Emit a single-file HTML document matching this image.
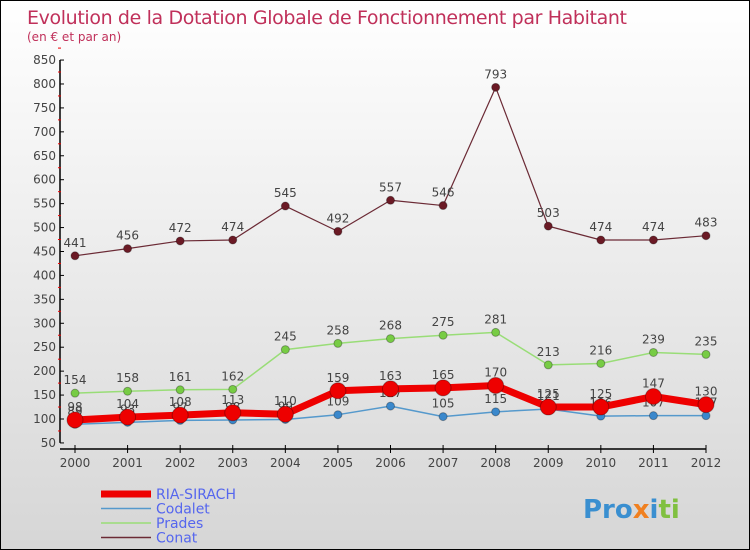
<!DOCTYPE html>
<html><head><meta charset="utf-8"><style>
html,body{margin:0;padding:0}
body{width:750px;height:550px;overflow:hidden;font-family:"DejaVu Sans","Liberation Sans",sans-serif}
#wrap{position:relative;width:748px;height:548px;border:1px solid #000;background:linear-gradient(#fff,#d6d6d6)}
</style></head><body>
<div id="wrap">
<svg id="chart" width="748" height="548" style="position:absolute;left:0;top:0">
<text x="26" y="23" font-size="19" fill="#c0305a" font-family="DejaVu Sans, sans-serif" textLength="600">Evolution de la Dotation Globale de Fonctionnement par Habitant</text>
<text x="26" y="40" font-size="12" fill="#c0305a">(en € et par an)</text>
<g id="axes"></g><g id="series"></g><g id="legend"></g>
<text x="582" y="517" font-size="26" font-weight="bold"><tspan fill="#3a8fd0">Pro</tspan><tspan fill="#f08020">x</tspan><tspan fill="#3a8fd0">i</tspan><tspan fill="#80c040">ti</tspan></text>
</svg>
</div>
<script>
const years=[2000,2001,2002,2003,2004,2005,2006,2007,2008,2009,2010,2011,2012];
const yTicks=[50,100,150,200,250,300,350,400,450,500,550,600,650,700,750,800,850];
const riaSirach=[98,104,108,113,110,159,163,165,170,125,125,147,130];
const codalet=[89,93,97,98,99,109,127,105,115,121,106,107,107];
const prades=[154,158,161,162,245,258,268,275,281,213,216,239,235];
const conat=[441,456,472,474,545,492,557,546,793,503,474,474,483];
const seriesNames=["RIA-SIRACH","Codalet","Prades","Conat"];
const NS="http://www.w3.org/2000/svg";
function xs(i){return 74+i*(705-74)/(years.length-1);}
function ys(v){return 418-(v-100)*0.4786;}
function mk(tag,attrs,parent){const e=document.createElementNS(NS,tag);for(const k in attrs)e.setAttribute(k,attrs[k]);parent.appendChild(e);return e;}
const axes=document.getElementById('axes');
let ax=mk('line',{x1:59,y1:ys(850),x2:59,y2:ys(50),stroke:'#000','stroke-width':1.5},axes);


let bx=mk('line',{x1:59,y1:448,x2:xs(12),y2:448,stroke:'#000','stroke-width':1.5},axes);


yTicks.forEach(v=>{
 mk('line',{x1:59,y1:ys(v),x2:63,y2:ys(v),stroke:'#000'},axes);
 mk('line',{x1:57,y1:ys(v+25),x2:60,y2:ys(v+25),stroke:'#e00'},axes);
 const t=mk('text',{x:55,y:ys(v)+4,'font-size':12,fill:'#444','text-anchor':'end'},axes);
 t.textContent=v;
 
 
});
years.forEach((y,i)=>{
 mk('line',{x1:xs(i),y1:444,x2:xs(i),y2:452,stroke:'#000'},axes);
 const t=mk('text',{x:xs(i),y:466,'font-size':12,fill:'#444','text-anchor':'middle'},axes);
 t.textContent=y;
 
 
});
const sg=document.getElementById('series');
function draw(data,color,w,r,name,dot){
 const g=mk('g',{},sg);
 
 
 const p=mk('polyline',{points:data.map((v,i)=>xs(i)+','+ys(v)).join(' '),fill:'none',stroke:color,'stroke-width':w,'stroke-linejoin':'round'},g);
 
 
 data.forEach((v,i)=>{
  const c=mk('circle',{cx:xs(i),cy:ys(v),r:r,fill:dot,stroke:'rgba(0,0,0,0.3)'},g);
  
  
  const t=mk('text',{x:xs(i),y:ys(v)-9,'font-size':12,fill:'#444','text-anchor':'middle'},g);
  t.textContent=v;
  
  
 });
}
draw(conat,'#6b2a35',1.2,4,'conat','#6b1a25');
draw(prades,'#99dd77',1.5,4,'prades','#77cc44');
draw(codalet,'#5599cc',1.5,4,'codalet','#3a88cc');
draw(riaSirach,'#ee0000',7,8,'ria-sirach','#ee0000');
const lg=document.getElementById('legend');
const lcols=['#ee0000','#5599cc','#99dd77','#6b2a35'],lw=[7,1.5,1.5,1.5];
seriesNames.forEach((n,i)=>{
 const y=493+i*14.5;
 const l=mk('line',{x1:100,y1:y,x2:150,y2:y,stroke:lcols[i],'stroke-width':lw[i]},lg);
 
 
 const t=mk('text',{x:155,y:y+5,'font-size':14,fill:'#5566ee'},lg);
 t.textContent=n;
 
 
});
</script>
</body></html>
